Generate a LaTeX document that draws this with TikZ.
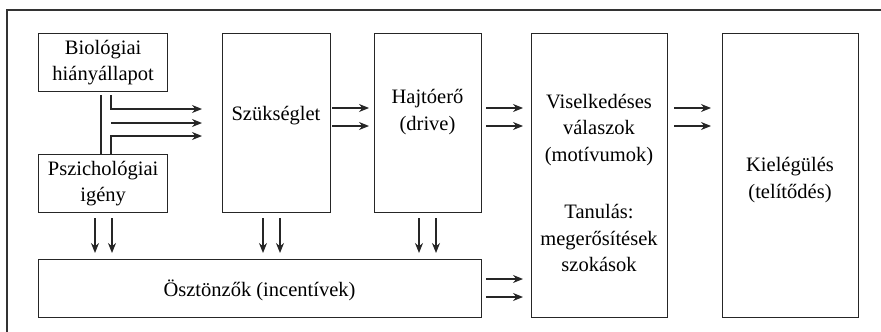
\documentclass[tikz,border=0pt]{standalone}
\usepackage{fontspec}
\setmainfont{Liberation Serif}
\usetikzlibrary{arrows.meta,calc}
\begin{document}
\begin{tikzpicture}[x=1pt,y=-1pt,
  box/.style={draw=black!85,line width=1.3pt,minimum width=#1,inner sep=0pt,anchor=north west},
  txt/.style={align=center,font=\fontsize{20.5}{26.5}\selectfont,inner sep=0pt},
  arr/.style={line width=1.2pt,draw=black!85,-{Stealth[length=10pt,width=8pt]}},
  ln/.style={line width=1.2pt,draw=black!85}]
\useasboundingbox (0,0) rectangle (881,332);
\draw[line width=1.5pt,draw=black!80] (7,332) -- (7,10) -- (881,10);
% boxes
\node[box=129pt,minimum height=58pt] (bio) at (38,33) {};
\node[box=129pt,minimum height=58pt] (psy) at (38,154) {};
\node[box=108pt,minimum height=179pt] (szuk) at (222,33) {};
\node[box=107pt,minimum height=179pt] (hajt) at (374,33) {};
\node[box=136pt,minimum height=284pt] (visel) at (531,33) {};
\node[box=136pt,minimum height=284pt] (kiel) at (722,33) {};
\node[box=443pt,minimum height=58pt] (oszt) at (38,259) {};
% texts
\node[txt] (tbio) at (bio.center) {Biológiai\\hiányállapot};
\node[txt] (tpsy) at (psy.center) {Pszichológiai\\igény};
\node[txt] (tszuk) at (276,116) {Szükséglet};
\node[txt] (thajt) at (427.5,112) {Hajtóerő\\(drive)};
\node[txt] (tvis1) at (599,130) {Viselkedéses\\válaszok\\(motívumok)};
\node[txt] (tvis2) at (599,238) {Tanulás:\\megerősítések\\szokások};
\node[txt] (tkiel) at (790,180) {Kielégülés\\(telítődés)};
\node[txt] (toszt) at (259.5,290) {Ösztönzők (incentívek)};
% coordinates for rows
\coordinate (b1) at (101,0); \coordinate (b2) at (111,0);
\coordinate (r1) at (0,109); \coordinate (r2) at (0,123); \coordinate (r3) at (0,136);
\coordinate (h1) at (0,108); \coordinate (h2) at (0,126);
\coordinate (o1) at (0,279); \coordinate (o2) at (0,297);
% bio/psy connectors
\draw[ln] ([yshift=-3pt]bio.south -| b1) -- (psy.north -| b1);
\draw[arr] ([yshift=-3pt]bio.south -| b2) -- (b2 |- r1) -- ([xshift=-20pt]szuk.west |- r1);
\draw[arr] (b2 |- r2) -- ([xshift=-20pt]szuk.west |- r2);
\draw[arr] (psy.north -| b2) -- (b2 |- r3) -- ([xshift=-20pt]szuk.west |- r3);
% horizontal arrows
\foreach \r in {h1,h2}{
  \draw[arr] ([xshift=1pt]szuk.east |- \r) -- ([xshift=-5pt]hajt.west |- \r);
  \draw[arr] ([xshift=4pt]hajt.east |- \r) -- ([xshift=-8pt]visel.west |- \r);
  \draw[arr] ([xshift=6pt]visel.east |- \r) -- ([xshift=-11pt]kiel.west |- \r);
}
\foreach \r in {o1,o2}{
  \draw[arr] ([xshift=4pt]oszt.east |- \r) -- ([xshift=-8pt]visel.west |- \r);
}
% down arrows
\foreach \x in {95,112,263,280,419,436}{
  \draw[arr] ([yshift=-5pt]psy.south -| \x,0) -- ([yshift=6pt]oszt.north -| \x,0);
}
\end{tikzpicture}
\end{document}
